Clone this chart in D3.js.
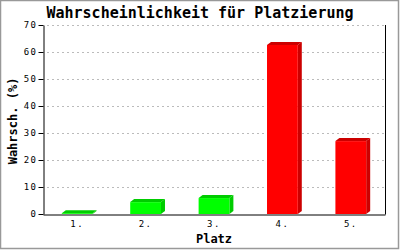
<!DOCTYPE html>
<html>
<head>
<meta charset="utf-8">
<script src="https://cdn.jsdelivr.net/npm/d3@7"></script>
<style>
  body { margin: 0; background: #fff; }
  svg { display: block; }
  text { font-family: "DejaVu Sans Mono", "Liberation Mono", monospace; }
</style>
</head>
<body>
<div class="vis-bar"></div>
<script>
const places = ["1.", "2.", "3.", "4.", "5."];
const probs = [0.3, 4.4, 5.9, 62.6, 27.0];
const yTicks = [0, 10, 20, 30, 40, 50, 60, 70];

const W = 400, H = 250;
const margin = { top: 25, right: 15, bottom: 36, left: 43 };
const depthX = 4, depthY = 3;

const svg = d3.select('.vis-bar')
    .append('svg')
    .attr('width', W)
    .attr('height', H);

// frame
svg.append('rect')
    .attr('x', 0.5).attr('y', 0.5)
    .attr('width', W - 2).attr('height', H - 2)
    .attr('fill', '#fff')
    .attr('stroke', '#999')
    .attr('stroke-width', 1.5);

const x = d3.scaleBand()
    .domain(places)
    .range([margin.left, W - margin.right])
    .paddingInner(0.55)
    .paddingOuter(0.275);

const y = d3.scaleLinear()
    .domain([0, 70])
    .range([H - margin.bottom, margin.top]);

// grid
svg.append('g')
    .selectAll('line')
    .data(yTicks.filter(d => d > 0))
    .enter().append('line')
    .attr('x1', margin.left + 4)
    .attr('x2', W - margin.right)
    .attr('y1', d => Math.round(y(d)) + 0.5)
    .attr('y2', d => Math.round(y(d)) + 0.5)
    .attr('stroke', '#bbb')
    .attr('stroke-dasharray', '2,3');

// bars (pseudo 3d)
const colors = (d, i) => i < 3 ? ['#00ff00', '#00cc00'] : ['#ff0000', '#cc0000'];
const y0 = y(0);
const bars = svg.append('g')
    .selectAll('g')
    .data(probs)
    .enter().append('g');

bars.append('polygon')
    .attr('points', (d, i) => {
        const x0 = x(places[i]), w = x.bandwidth(), yt = y(d);
        return [[x0 + w, yt], [x0 + w + depthX, yt - depthY], [x0 + w + depthX, y0 - depthY], [x0 + w, y0]].join(' ');
    })
    .attr('fill', (d, i) => colors(d, i)[1]);

bars.append('polygon')
    .attr('points', (d, i) => {
        const x0 = x(places[i]), w = x.bandwidth(), yt = y(d);
        return [[x0, yt], [x0 + depthX, yt - depthY], [x0 + w + depthX, yt - depthY], [x0 + w, yt]].join(' ');
    })
    .attr('fill', (d, i) => colors(d, i)[1]);

bars.append('rect')
    .attr('x', (d, i) => x(places[i]))
    .attr('y', d => y(d))
    .attr('width', x.bandwidth())
    .attr('height', d => y0 - y(d))
    .attr('fill', (d, i) => colors(d, i)[0]);

// axes
const yAxis = svg.append('g')
    .attr('transform', 'translate(' + (margin.left + 0.5) + ',0)')
    .call(d3.axisLeft(y).tickValues(yTicks).tickSize(5).tickSizeOuter(0));
yAxis.select('.domain').attr('stroke', '#000');
yAxis.selectAll('.tick line').attr('stroke', '#000');
yAxis.selectAll('.tick text')
    .attr('x', -6)
    .style('font-size', '9px')
    .style('letter-spacing', '1.5px')
    .attr('fill', '#000');

const xAxis = svg.append('g')
    .attr('transform', 'translate(0,' + (Math.round(y0) + 0.5) + ')')
    .call(d3.axisBottom(x).tickSize(0).tickSizeOuter(0));
xAxis.select('.domain').attr('stroke', '#000');
xAxis.selectAll('.tick text')
    .attr('y', 6)
    .style('font-size', '9px')
    .style('letter-spacing', '1.5px')
    .attr('fill', '#000');

// right border line of plot
svg.append('line')
    .attr('x1', W - margin.right + 0.5)
    .attr('x2', W - margin.right + 0.5)
    .attr('y1', y(70))
    .attr('y2', y0 + 0.5)
    .attr('stroke', '#000');

// titles
svg.append('text')
    .attr('x', 200)
    .attr('y', 18)
    .attr('text-anchor', 'middle')
    .style('font-size', '15px')
    .style('font-weight', 'bold')
    .text('Wahrscheinlichkeit für Platzierung');

svg.append('text')
    .attr('x', 214)
    .attr('y', 243)
    .attr('text-anchor', 'middle')
    .style('font-size', '12px')
    .style('font-weight', 'bold')
    .text('Platz');

svg.append('text')
    .attr('transform', 'translate(17,121) rotate(-90)')
    .attr('text-anchor', 'middle')
    .style('font-size', '12px')
    .style('font-weight', 'bold')
    .text('Wahrsch. (%)');
</script>
</body>
</html>
